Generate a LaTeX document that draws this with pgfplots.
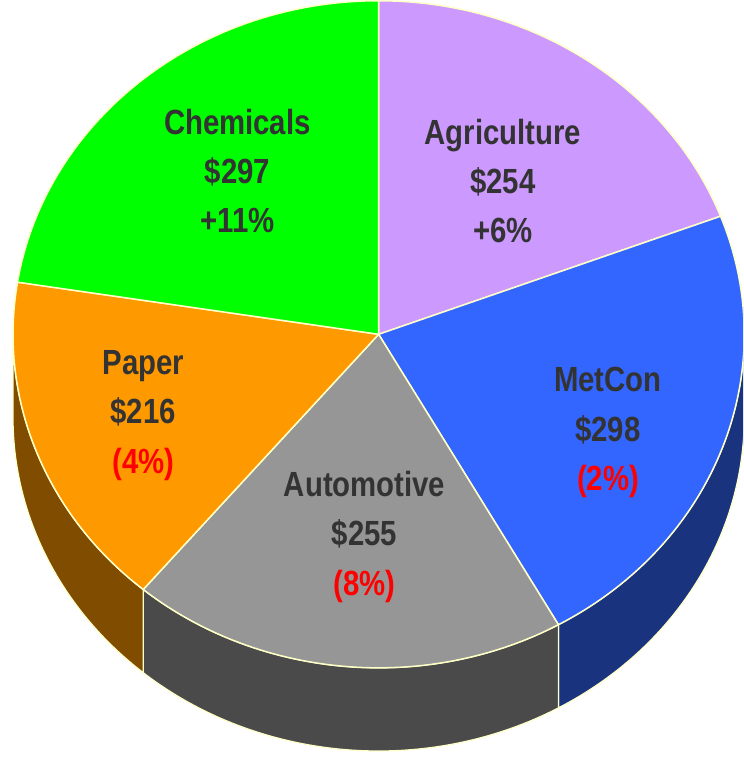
\documentclass[border=0pt]{standalone}
\usepackage{pgfplots}
\pgfplotsset{compat=1.18}
\usepackage{fontspec}
\setmainfont{Liberation Sans}
\newfontfamily\lblfont{Liberation Sans}[FakeStretch=0.84]
\definecolor{agr}{HTML}{CC99FF}
\definecolor{met}{HTML}{3366FF}
\definecolor{aut}{HTML}{969696}
\definecolor{pap}{HTML}{FF9900}
\definecolor{chem}{HTML}{00FF00}
\definecolor{agrS}{HTML}{664C80}
\definecolor{metS}{HTML}{1A337F}
\definecolor{autS}{HTML}{4A4A4A}
\definecolor{papS}{HTML}{7F4C00}
\definecolor{chemS}{HTML}{008000}
\definecolor{edge}{HTML}{FFFFC8}
\definecolor{txt}{HTML}{333333}
\definecolor{neg}{HTML}{FF0000}
\begin{document}
\begin{tikzpicture}
\begin{axis}[scale only axis, width=742bp, height=760bp,
  xmin=0, xmax=742, ymin=0, ymax=760, y dir=reverse, hide axis, clip=true]
\pgfplotsextra{%
  % sides (3D wall), visible only for angles between -180 and 0
  \gdef\angS{90}%
  \foreach \v/\c/\sc in {254/agr/agrS, 298/met/metS, 255/aut/autS, 216/pap/papS, 297/chem/chemS}{%
    \pgfmathsetmacro{\s}{\angS}%
    \pgfmathsetmacro{\e}{\angS-\v/1320*360}%
    \xdef\angS{\e}%
    \pgfmathsetmacro{\hi}{min(\s,0)}%
    \pgfmathsetmacro{\lo}{max(\e,-180)}%
    \ifdim\lo pt<\hi pt
      \filldraw[fill=\sc, draw=edge, line width=1.2bp, line join=round]
        (axis cs:378,335) ++(\hi:365bp and 333bp)
        arc[start angle=\hi, end angle=\lo, x radius=365bp, y radius=333bp]
        -- ++(0,-83bp)
        arc[start angle=\lo, end angle=\hi, x radius=365bp, y radius=333bp]
        -- cycle;
    \fi
  }%
  % top surface
  \gdef\angS{90}%
  \foreach \v/\c/\sc in {254/agr/agrS, 298/met/metS, 255/aut/autS, 216/pap/papS, 297/chem/chemS}{%
    \pgfmathsetmacro{\s}{\angS}%
    \pgfmathsetmacro{\e}{\angS-\v/1320*360}%
    \xdef\angS{\e}%
    \filldraw[fill=\c, draw=edge, line width=1.5bp, line join=round]
      (axis cs:378,335) -- ++(\s:365bp and 333bp)
      arc[start angle=\s, end angle=\e, x radius=365bp, y radius=333bp]
      -- cycle;
  }%
}
\tikzset{lbl/.style={font=\lblfont\bfseries\fontsize{35}{49.5}\selectfont, text=txt, align=center, inner sep=0pt}}
\node[lbl] at (axis cs:237,172) {Chemicals\\\$297\\+11\%};
\node[lbl] at (axis cs:502,182) {Agriculture\\\$254\\+6\%};
\node[lbl] at (axis cs:607,433) {MetCon\\\$298\\\textcolor{neg}{(2\%)}};
\node[lbl] at (axis cs:143,416) {Paper\\\$216\\\textcolor{neg}{(4\%)}};
\node[lbl] at (axis cs:364,537) {Automotive\\\$255\\\textcolor{neg}{(8\%)}};
\end{axis}
\end{tikzpicture}
\end{document}
